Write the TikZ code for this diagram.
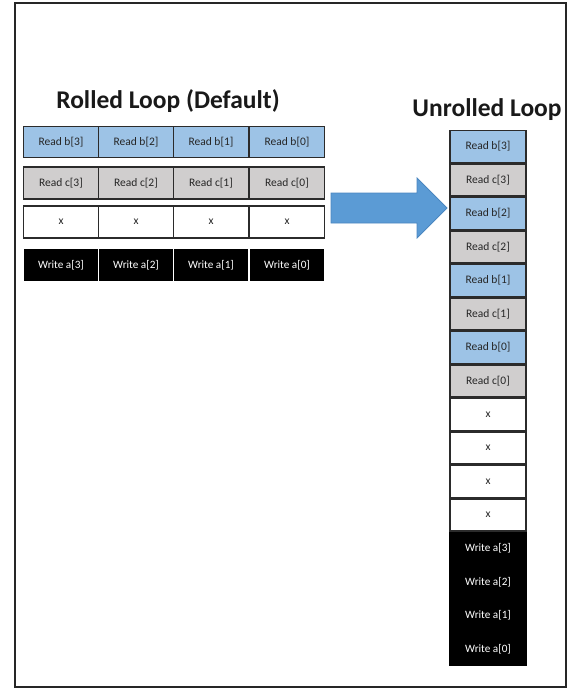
\documentclass[tikz,border=0pt]{standalone}
\usepackage{fontspec}
\setmainfont{Carlito}
\usepackage{xcolor}
\usepackage{tikz}
\usetikzlibrary{arrows.meta}

\definecolor{readblue}{HTML}{9DC3E6}
\definecolor{readgray}{HTML}{D0CECE}
\definecolor{arrowblue}{HTML}{5B9BD5}
\definecolor{arrowedge}{HTML}{4A86C0}
\definecolor{boxedge}{HTML}{2B2B2B}

\begin{document}
\begin{tikzpicture}[x=1pt, y=-1pt,
    cell/.style={draw=boxedge, line width=1.3pt, minimum width=75pt, minimum height=31pt,
        inner sep=0pt, font=\fontsize{11.5}{13}\selectfont, text=black!85},
    readb/.style={cell, fill=readblue},
    readc/.style={cell, fill=readgray},
    mulbox/.style={cell, fill=white},
    writebox/.style={cell, draw=black, fill=black, text=white, minimum width=72pt,
        font=\fontsize{11.2}{13}\selectfont},
    title/.style={font=\bfseries\fontsize{25.5}{28}\selectfont, text=black!90}]
\useasboundingbox (0,0) rectangle (569,689);
\draw[line width=2pt, draw=black!85] (15,3) rectangle (566,687);

% titles
\node[title] (rolled) at (168,101) {Rolled Loop (Default)};
\node[title] (unrolled) at (487,110) {Unrolled Loop};

% rolled loop grid
\foreach \i/\xc in {3/61, 2/136, 1/211, 0/287} {
    \node[readb] (b\i) at (\xc,142) {Read b[\i]};
    \node[readc, minimum height=32pt] (c\i) at (\xc,183) {Read c[\i]};
    \node[mulbox, minimum height=32pt] (x\i) at (\xc,222) {x};
    \node[writebox, minimum height=30pt] (w\i) at (\xc,265) {Write a[\i]};
}

% arrow
\filldraw[fill=arrowblue, draw=arrowedge, line width=0.8pt]
    (331,193) -- (417,193) -- (417,178) -- (447,208) -- (417,238) -- (417,223) -- (331,223) -- cycle;

% unrolled column
\foreach \n/\sty/\txt [count=\k from 0] in {
    ub3/readb/Read b[3], uc3/readc/Read c[3],
    ub2/readb/Read b[2], uc2/readc/Read c[2],
    ub1/readb/Read b[1], uc1/readc/Read c[1],
    ub0/readb/Read b[0], uc0/readc/Read c[0],
    ux3/mulbox/x, ux2/mulbox/x, ux1/mulbox/x, ux0/mulbox/x,
    uw3/writebox/Write a[3], uw2/writebox/Write a[2],
    uw1/writebox/Write a[1], uw0/writebox/Write a[0]} {
    \node[\sty, minimum width=76pt, minimum height=32pt] (\n) at (488,146.5+33.5*\k) {\txt};
}
\end{tikzpicture}
\end{document}
